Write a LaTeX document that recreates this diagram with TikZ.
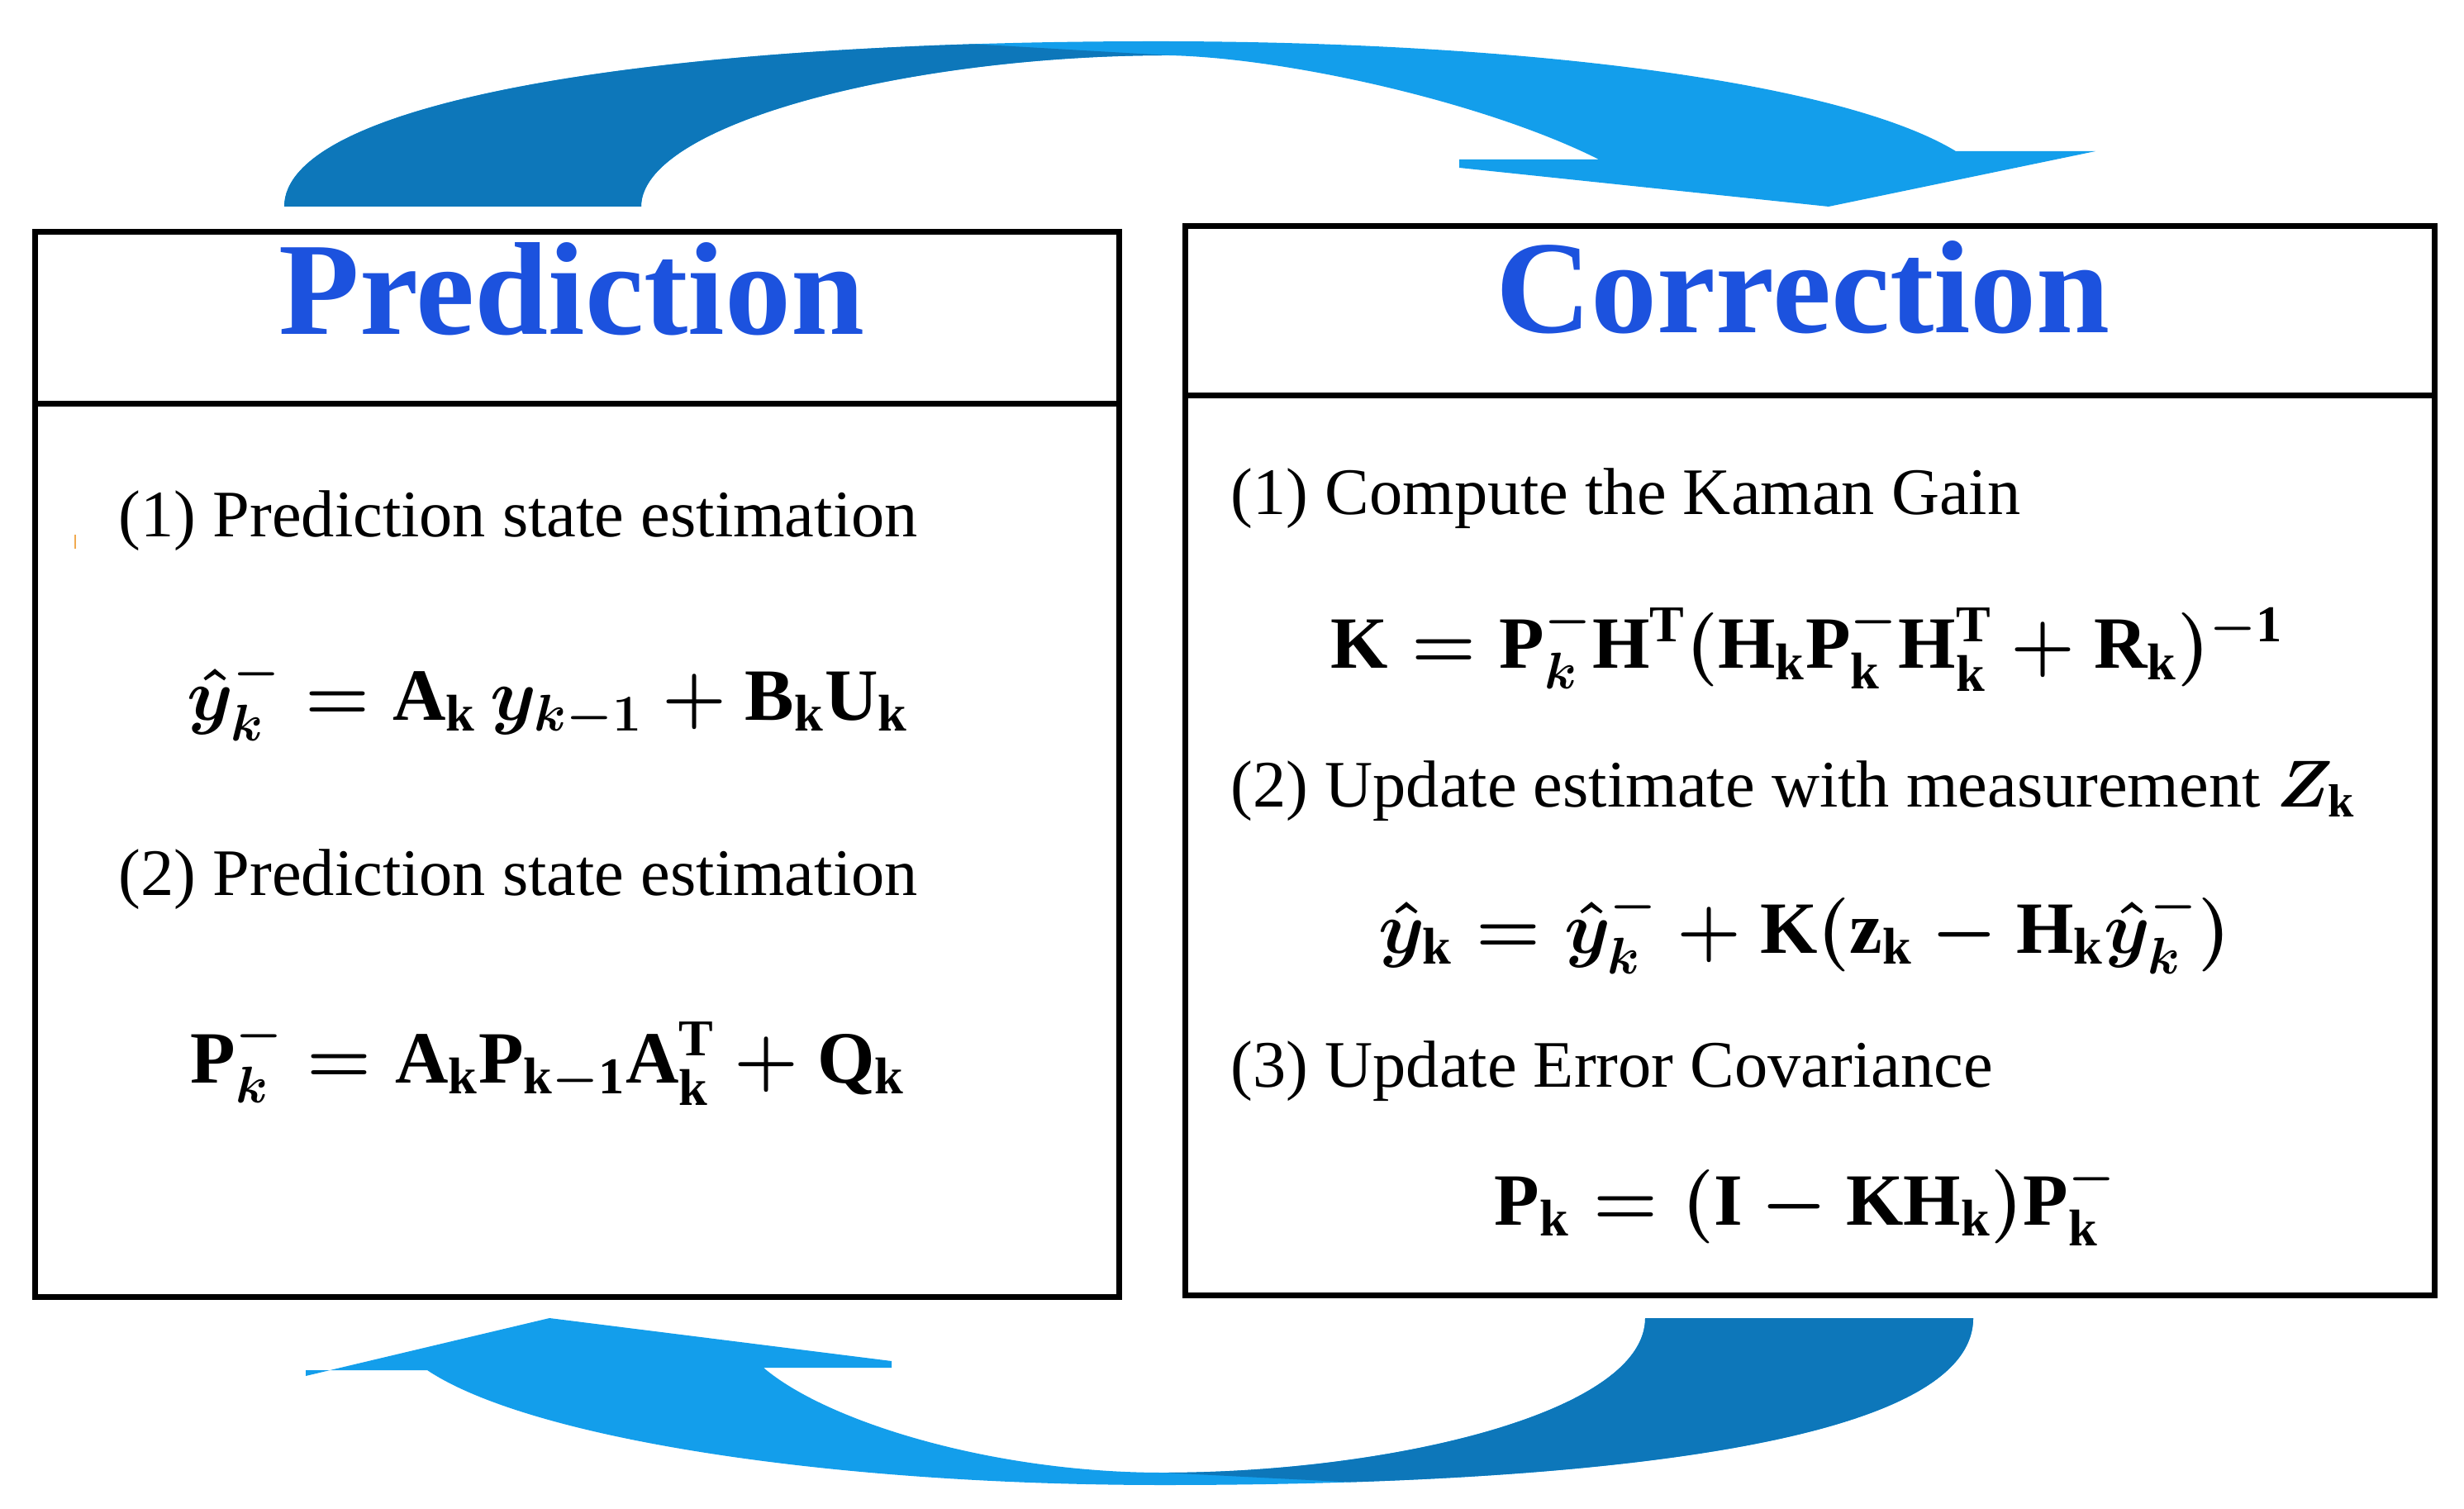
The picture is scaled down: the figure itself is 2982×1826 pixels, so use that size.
\RequirePackage{fix-cm}
\documentclass[tikz,border=0pt]{standalone}
\usepackage{amsmath}
\usepackage{fontspec}
\setmainfont{Liberation Serif}
\definecolor{arrowdark}{RGB}{13,119,186}
\definecolor{arrowlight}{RGB}{19,158,235}
\definecolor{titleblue}{RGB}{28,82,222}
\definecolor{tickorange}{RGB}{240,170,80}
\begin{document}
\begin{tikzpicture}[x=0.25pt,y=-0.25pt,
  boxline/.style={line width=1.75pt, draw=black},
  titletext/.style={font=\fontsize{40}{48}\selectfont\bfseries, text=titleblue, inner sep=0pt, anchor=base},
  steptext/.style={font=\fontsize{20.1}{24}\selectfont, anchor=west, inner sep=0pt},
  eqtext/.style={font=\fontsize{22.3}{27}\selectfont\boldmath, inner sep=0pt}]
\useasboundingbox (0,0) rectangle (2982,1826);

% ---- top curved arrow ----
\fill[arrowlight] (344,250) .. controls (344,130) and (750,50) .. (1400,50)
  .. controls (1850,50) and (2230,100) .. (2367,183) -- (2536,183) -- (2213,250)
  -- (1766,203) -- (1766,193) -- (1935,193)
  .. controls (1800,125) and (1560,70) .. (1414,67)
  .. controls (1100,67) and (776,150) .. (776,250) -- cycle;
\begin{scope}
\clip (0,-10) -- (1100,-10) -- (1121,50) -- (1414,67) -- (1414,300) -- (0,300) -- cycle;
\fill[arrowdark] (344,250) .. controls (344,130) and (750,50) .. (1400,50)
  .. controls (1850,50) and (2230,100) .. (2367,183) -- (2536,183) -- (2213,250)
  -- (1766,203) -- (1766,193) -- (1935,193)
  .. controls (1800,125) and (1560,70) .. (1414,67)
  .. controls (1100,67) and (776,150) .. (776,250) -- cycle;
\end{scope}

% ---- bottom curved arrow ----
\fill[arrowlight] (2388,1595) .. controls (2388,1760) and (1850,1797) .. (1408,1797)
  .. controls (1000,1797) and (640,1740) .. (517,1658) -- (370,1658) -- (370,1665)
  -- (665,1595) -- (1079,1647) -- (1079,1655) -- (924,1655)
  .. controls (1000,1720) and (1200,1782) .. (1408,1782)
  .. controls (1680,1782) and (1991,1710) .. (1991,1595) -- cycle;
\begin{scope}
\clip (1408,1500) -- (1408,1782) -- (1703,1797) -- (1725,1900) -- (3000,1900) -- (3000,1500) -- cycle;
\fill[arrowdark] (2388,1595) .. controls (2388,1760) and (1850,1797) .. (1408,1797)
  .. controls (1000,1797) and (640,1740) .. (517,1658) -- (370,1658) -- (370,1665)
  -- (665,1595) -- (1079,1647) -- (1079,1655) -- (924,1655)
  .. controls (1000,1720) and (1200,1782) .. (1408,1782)
  .. controls (1680,1782) and (1991,1710) .. (1991,1595) -- cycle;
\end{scope}

% ---- boxes ----
\draw[boxline] (42,281) rectangle (1354,1569);
\draw[boxline] (42,489) -- (1354,489);
\draw[boxline] (1434,274) rectangle (2946,1567);
\draw[boxline] (1434,479) -- (2946,479);

% ---- titles ----
\node[titletext] (tpred) at (692,405) {Prediction};
\node[titletext] (tcorr) at (2182,403) {Correction};

% ---- prediction contents ----
\draw[tickorange, line width=0.7pt] (91,647) -- (91,664);
\node[steptext] (p1) at (143,630) {(1) Prediction state estimation};
\node[eqtext] (pe1) at (663,844) {$\hat{y}^{-}_{k} = \mathrm{A_k}\,y_{k-1} + \mathrm{B_kU_k}$};
\node[steptext] (p2) at (143,1064) {(2) Prediction state estimation};
\node[eqtext] (pe2) at (663,1284) {$\mathrm{P}^{-}_{k} = \mathrm{A_kP_{k-1}A_k^T + Q_k}$};

% ---- correction contents ----
\node[steptext] (c1) at (1489,603) {(1) Compute the Kaman Gain};
\node[eqtext] (ce1) at (2187,783) {$\mathrm{K} = \mathrm{P}^{-}_{k}\mathrm{H^T(H_kP_k^-H_k^T + R_k)^{-1}}$};
\node[steptext] (c2) at (1489,957) {(2) Update estimate with measurement {\boldmath$Z_{\mathrm{k}}$}};
\node[eqtext] (ce2) at (2184,1126) {$\hat{y}_{\mathrm{k}} = \hat{y}^{-}_{k} + \mathrm{K(z_k} - \mathrm{H_k}\hat{y}^{-}_{k})$};
\node[steptext] (c3) at (1489,1296) {(3) Update Error Covariance};
\node[eqtext] (ce3) at (2185,1455) {$\mathrm{P_k = (I - KH_k)P_k^-}$};
\end{tikzpicture}
\end{document}
